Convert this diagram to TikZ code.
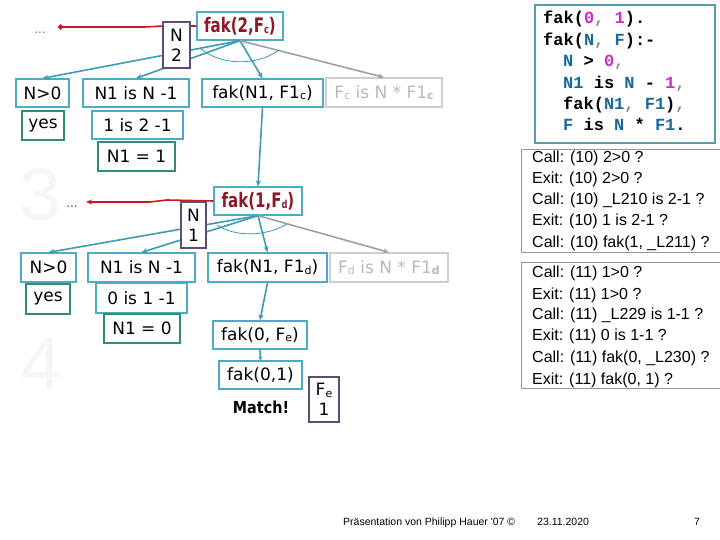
\documentclass[tikz,border=0pt]{standalone}
\usepackage{fontspec}
\setmainfont{DejaVu Sans}
\newfontfamily\monof{Liberation Mono}
\newfontfamily\tracef{Liberation Sans}
\usetikzlibrary{arrows.meta}
\definecolor{teal1}{RGB}{75,172,198}
\definecolor{tealarr}{RGB}{62,155,180}
\definecolor{grn}{RGB}{50,140,110}
\definecolor{purp}{RGB}{95,75,115}
\definecolor{dred}{RGB}{140,25,40}
\definecolor{rline}{RGB}{200,25,35}
\definecolor{gbox}{RGB}{205,205,205}
\definecolor{gtxt}{RGB}{185,185,185}
\definecolor{garr}{RGB}{160,160,160}
\definecolor{cblue}{RGB}{25,105,155}
\definecolor{cmag}{RGB}{200,45,200}
\definecolor{cbord}{RGB}{90,155,170}
\definecolor{tbord}{RGB}{150,150,150}
\newcommand\sbs[1]{\raisebox{-1.5pt}{\fontsize{11}{11}\selectfont #1}}
\newcommand\mg[1]{\textcolor{cmag}{#1}}
\newcommand\bl[1]{\textcolor{cblue}{#1}}
\newcommand\cmm{\textcolor{black!45}{,}}
\begin{document}
\begin{tikzpicture}[x=1pt,y=-1pt,
  sz/.style 2 args={minimum width=#1,minimum height=#2},
  box/.style={draw=teal1, line width=1.3pt, fill=white, inner sep=0pt, font=\fontsize{17}{20}\selectfont},
  gbx/.style={box, draw=grn},
  pbx/.style={box, draw=purp, line width=1.1pt, align=center},
  greybx/.style={box, draw=gbox, text=gtxt},
  hd/.style={box, text=dred, font=\fontsize{20}{22}\selectfont\bfseries},
  conn/.style={draw=tealarr, line width=1.6pt, -{Stealth[length=6pt,width=5pt]}},
  gconn/.style={conn, draw=garr},
  arcl/.style={draw=tealarr, line width=0.8pt},
  redl/.style={draw=rline, line width=1.6pt},
  code/.style={anchor=mid west, inner sep=0pt, font=\monof\bfseries\fontsize{17}{20}\selectfont},
  trc/.style={anchor=mid west, inner sep=0pt, font=\tracef\fontsize{16}{18}\selectfont},
  big/.style={inner sep=0pt, text=black!4, font=\tracef\fontsize{75}{75}\selectfont},
  foot/.style={anchor=mid west, inner sep=0pt, font=\tracef\fontsize{10.5}{12}\selectfont}]
\useasboundingbox (0,0) rectangle (720,540);
\fill[white] (0,0) rectangle (720,540);

% big step numbers
\node[big] (big3) at (40,195) {3};
\node[big] (big4) at (41,364) {4};

% ---------- level 1 ----------
\node[hd, sz={86}{28}] (fak2) at (240,26) {\scalebox{0.75}[1]{fak(2,F\sbs{c})}};
\node[box, sz={53}{28}] (gt1) at (42.5,93) {N>0};
\node[gbx, sz={42}{29}] (yes1) at (43,125.5) {yes};
\node[box, sz={106}{28}] (is1) at (136,93) {N1 is N -1};
\node[box, sz={91}{28}] (is1b) at (137.5,125) {1 is 2 -1};
\node[gbx, sz={77}{29}] (eq1) at (136.5,156.5) {N1 = 1};
\node[box, sz={121}{28}] (rec1) at (262.5,93) {fak(N1, F1\sbs{c})};
\node[greybx, sz={116}{29}] (mul1) at (384,92.5) {F\sbs{c} is N * F1\sbs{\bfseries c}};
\node[inner sep=0pt, text=black!55, font=\fontsize{12}{12}\selectfont] (dots1) at (40,33) {...};
\coordinate (red1) at (58,27);

\draw[redl, -{Circle[length=5pt]}] (fak2.west) -- (163,26) -- (145,27) -- (red1);
\draw[conn] (fak2.south) -- (gt1.north);
\draw[conn] (fak2.south) -- (is1.north);
\draw[conn] (fak2.south) -- (rec1.north);
\draw[gconn] (fak2.south) -- (mul1.north);
\draw[arcl] (200,48) .. controls (220,66) and (258,66) .. (279,50);
\node[pbx, sz={27}{46}] (n2box) at (176.5,45) {N\\2};

% ---------- level 2 ----------
\node[hd, sz={88}{28}] (fak1) at (258,201) {\scalebox{0.75}[1]{fak(1,F\sbs{d})}};
\draw[conn] (rec1.south) -- (fak1.north);
\node[box, sz={55}{29}] (gt2) at (48.5,267.5) {N>0};
\node[gbx, sz={44}{30}] (yes2) at (48,299) {yes};
\node[box, sz={107}{29}] (is2) at (141.5,267.5) {N1 is N -1};
\node[box, sz={91}{30}] (is2b) at (141.5,298) {0 is 1 -1};
\node[gbx, sz={76}{29}] (eq2) at (142,328.5) {N1 = 0};
\node[box, sz={119}{29}] (rec2) at (267.5,267.5) {fak(N1, F1\sbs{d})};
\node[greybx, sz={118}{29}] (mul2) at (389,267.5) {F\sbs{d} is N * F1\sbs{\bfseries d}};
\node[inner sep=0pt, text=rline, font=\fontsize{12}{12}\selectfont] (dots2) at (72,207) {...};
\coordinate (red2) at (86,202);

\draw[redl, -{Stealth[length=6pt,width=5pt]}] (fak1.west) -- (167,200) -- (150,202) -- (red2);
\draw[conn] (fak1.south) -- (gt2.north);
\draw[conn] (fak1.south) -- (is2.north);
\draw[conn] (fak1.south) -- (rec2.north);
\draw[gconn] (fak1.south) -- (mul2.north);
\draw[arcl] (217,225) .. controls (235,237) and (265,237) .. (287,224);
\node[pbx, sz={25}{46}] (n1box) at (193.5,225) {N\\1};

% ---------- level 3 ----------
\node[box, sz={94}{28}] (fak0) at (260,335) {fak(0, F\sbs{e})};
\node[box, sz={83}{28}] (fak01) at (260.5,375) {fak(0,1)};
\draw[conn] (rec2.south) -- (fak0.north);
\draw[conn, -{Stealth[length=4pt,width=4pt]}] (fak0.south) -- (fak01.north);
\node[inner sep=0pt, font=\fontsize{16.5}{18}\selectfont\bfseries] (match) at (261,407) {\scalebox{0.87}[1]{Match!}};
\node[pbx, sz={30}{45}] (febox) at (324,399.5) {F\sbs{e}\\1};

% ---------- program ----------
\draw[draw=cbord, line width=1.2pt] (535,5) rectangle (715,143);
\node[code] (c1) at (543,21) {fak(\mg{0}\cmm{} \mg{1}).};
\node[code] (c2) at (543,43) {fak(\bl{N}\cmm{} \bl{F}):-};
\node[code] (c3) at (563,64) {\bl{N} > \mg{0}\cmm};
\node[code] (c4) at (563,86) {\bl{N1} is \bl{N} - \mg{1}\cmm};
\node[code] (c5) at (563,107) {fak(\bl{N1}\cmm{} \bl{F1})\cmm};
\node[code] (c6) at (563,128) {\bl{F} is \bl{N} * \bl{F1}.};

% ---------- traces ----------
\draw[draw=tbord, line width=0.8pt] (724,149) -- (521,149) -- (521,252) -- (724,252);
\node[trc] (t1) at (532,160) {Call: (10) 2>0 ?};
\node[trc] (t2) at (532,181) {Exit: (10) 2>0 ?};
\node[trc] (t3) at (532,202) {Call: (10) \_L210 is 2-1 ?};
\node[trc] (t4) at (532,223) {Exit: (10) 1 is 2-1 ?};
\node[trc] (t5) at (532,245) {Call: (10) fak(1, \_L211) ?};

\draw[draw=tbord, line width=0.8pt] (724,262) -- (521,262) -- (521,388) -- (724,388);
\node[trc] (u1) at (532,275) {Call: (11) 1>0 ?};
\node[trc] (u2) at (532,297) {Exit: (11) 1>0 ?};
\node[trc] (u3) at (532,317) {Call: (11) \_L229 is 1-1 ?};
\node[trc] (u4) at (532,338) {Exit: (11) 0 is 1-1 ?};
\node[trc] (u5) at (532,360) {Call: (11) fak(0, \_L230) ?};
\node[trc] (u6) at (532,382) {Exit: (11) fak(0, 1) ?};

% ---------- footer ----------
\node[foot] (f1) at (343,523) {Präsentation von Philipp Hauer '07 ©};
\node[foot] (f2) at (537,523) {23.11.2020};
\node[foot] (f3) at (694,523) {7};
\end{tikzpicture}
\end{document}
